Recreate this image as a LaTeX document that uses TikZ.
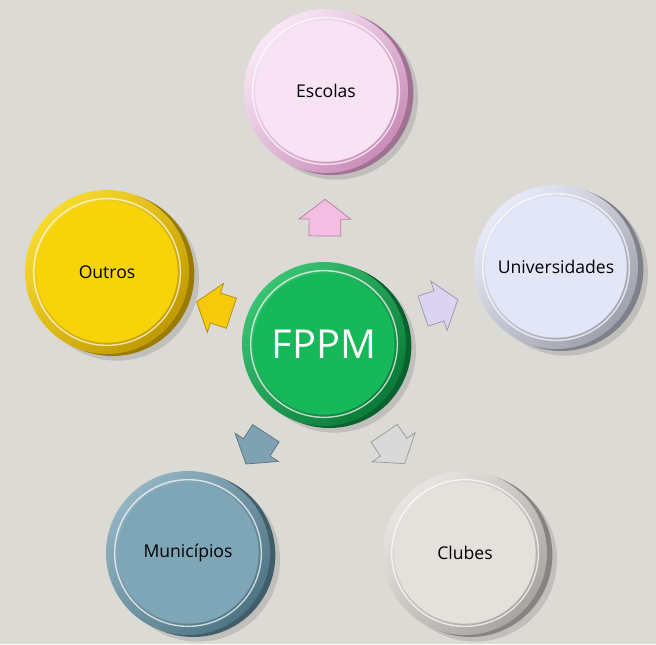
\documentclass[tikz,border=0pt]{standalone}
\usepackage{fontspec}
\setmainfont{Open Sans}
\usetikzlibrary{shapes.arrows}

\definecolor{fundo}{HTML}{DCDAD5}
\definecolor{fppmFace}{HTML}{17B85A}
\definecolor{fppmRim}{HTML}{0A7A38}
\definecolor{escolasFace}{HTML}{F7E3F4}
\definecolor{escolasRim}{HTML}{C98DB9}
\definecolor{univFace}{HTML}{E3E6F7}
\definecolor{univRim}{HTML}{9FA1AC}
\definecolor{clubesFace}{HTML}{E4E1DC}
\definecolor{clubesRim}{HTML}{A8A5A0}
\definecolor{munFace}{HTML}{7FA6B7}
\definecolor{munRim}{HTML}{4F7585}
\definecolor{outrosFace}{HTML}{F7D30A}
\definecolor{outrosRim}{HTML}{C09A00}
\definecolor{setaRosa}{HTML}{F4BDE2}
\definecolor{setaLilas}{HTML}{DAD4F0}
\definecolor{setaCinza}{HTML}{D9D9D9}
\definecolor{setaAzul}{HTML}{7FA2B2}
\definecolor{setaAmarela}{HTML}{F6C90A}

\begin{document}
\begin{tikzpicture}[x=0.03cm, y=-0.03cm,
  disco/.style 2 args={circle, minimum size=4.92cm, inner sep=0pt,
    font=\fontsize{15}{18}\selectfont,
    preaction={fill=black, opacity=.12, transform canvas={shift={(0.3cm,-0.2cm)}}},
    preaction={fill=#2!80!black, transform canvas={shift={(0.16cm,-0.06cm)}}},
    left color=#1!85!white, right color=#2, shading angle=45,
    path picture={
      \fill[#1] (path picture bounding box.center) circle (2.12cm);
      \draw[white, opacity=.7, line width=1.2pt] (path picture bounding box.center) circle (2.2cm);
    }},
  seta/.style={single arrow, fill=#1, draw=#1!70!black, line width=.6pt,
    minimum height=1.1cm, inner sep=0pt,
    single arrow head extend=.3cm, single arrow tip angle=105}
]
\useasboundingbox (0,0) rectangle (656,644);
\fill[fundo] (0,0) rectangle (656,644);

% centro
\node[disco={fppmFace}{fppmRim}, text=white, font=\fontsize{34}{40}\selectfont] (fppm) at (324,344) {FPPM};

% discos
\node[disco={escolasFace}{escolasRim}] (escolas) at (326,91) {Escolas};
\node[disco={univFace}{univRim}] (univ) at (556,267) {Universidades};
\node[disco={clubesFace}{clubesRim}] (clubes) at (465,553) {Clubes};
\node[disco={munFace}{munRim}] (mun) at (188,553) {Municípios};
\node[disco={outrosFace}{outrosRim}] (outros) at (107,272) {Outros};

% setas
\path (fppm) -- (escolas) node[pos=.43, sloped, allow upside down, seta=setaRosa] (s1) {\rule{0pt}{.93cm}};
\path (fppm) -- (univ) node[pos=.43, sloped, allow upside down, seta=setaLilas] (s2) {\rule{0pt}{.93cm}};
\path (fppm) -- (clubes) node[pos=.43, sloped, allow upside down, seta=setaCinza] (s3) {\rule{0pt}{.93cm}};
\path (fppm) -- (mun) node[pos=.43, sloped, allow upside down, seta=setaAzul] (s4) {\rule{0pt}{.93cm}};
\path (fppm) -- (outros) node[pos=.43, sloped, allow upside down, seta=setaAmarela] (s5) {\rule{0pt}{.93cm}};

\end{tikzpicture}
\end{document}
